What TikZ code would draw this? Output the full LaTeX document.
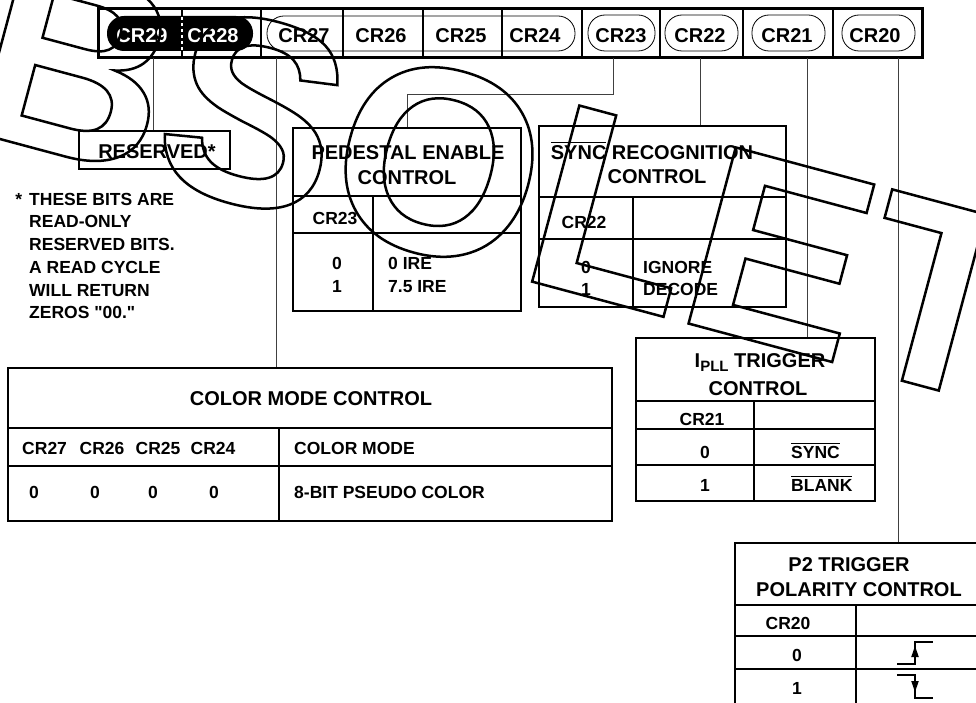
\documentclass[tikz,border=0pt]{standalone}
\usepackage{fontspec}
\setmainfont{Liberation Sans}[Ligatures=TeXOff]
\usetikzlibrary{arrows.meta}
\newcommand\ovl[1]{\vbox{\hrule height 1.1pt\kern 1.8pt\hbox{#1}}}
\begin{document}
\begin{tikzpicture}[x=1pt,y=-1pt,
  frame/.style={draw, line width=1.8pt, inner sep=0pt},
  rule/.style={line width=1.6pt},
  conn/.style={draw=black!75, line width=0.9pt},
  pill/.style={line width=0.8pt, rounded corners=17pt},
  reglbl/.style={inner sep=0pt, font=\fontsize{20}{22}\selectfont\bfseries, text height=14.3pt, text depth=0pt},
  cell/.style={inner sep=0pt, font=\fontsize{17.5}{20}\selectfont\bfseries, text height=12.5pt, text depth=0pt},
  note/.style={inner sep=0pt, font=\fontsize{17.5}{20}\selectfont\bfseries, anchor=base west},
  wave/.style={line width=1.1pt},
  tri/.style={fill=black}
]
\useasboundingbox (0,0) rectangle (976,703);
\fill[white] (0,0) rectangle (976,703);
\clip (0,0) rectangle (976,703);

% ---------------- register bar
\draw[pill] (267,16) rectangle (575,51);
\draw[pill] (588,15) rectangle (655,51);
\draw[pill] (665,15) rectangle (738,51);
\draw[pill] (752,15) rectangle (825,51);
\draw[pill] (842,15) rectangle (915,51);
\foreach \x in {182,261,343,423,502,582,660,743,833} \draw[line width=2.5pt] (\x,9) -- (\x,58);
\fill[rounded corners=17pt] (107,16) rectangle (253,51);
\draw[white, line width=1.8pt, dash pattern=on 3pt off 3pt] (182,17) -- (182,50);
\node[frame, line width=3pt, minimum width=824pt, minimum height=49pt] (reg) at (510,33.5) {};

\node[reglbl, text=white] (r29) at (142,35.5) {CR29};
\node[reglbl, text=white] (r28) at (213,35.5) {CR28};
\node[reglbl] (r27) at (304,35.5) {CR27};
\node[reglbl] (r26) at (381,35.5) {CR26};
\node[reglbl] (r25) at (461,35.5) {CR25};
\node[reglbl] (r24) at (535,35.5) {CR24};
\node[reglbl] (r23) at (621,35.5) {CR23};
\node[reglbl] (r22) at (700,35.5) {CR22};
\node[reglbl] (r21) at (787,35.5) {CR21};
\node[reglbl] (r20) at (875,35.5) {CR20};

% ---------------- reserved
\node[frame, line width=1.5pt, minimum width=151pt, minimum height=38pt] (tRes) at (154.5,150) {};
\node[reglbl] (lRes) at (157,151) {RESERVED*};

\node[note] (n1) at (29,206) {\llap{*\hspace{7pt}}THESE BITS ARE};
\node[note] (n2) at (29,228) {READ-ONLY};
\node[note] (n3) at (29,251) {RESERVED BITS.};
\node[note] (n4) at (29,273) {A READ CYCLE};
\node[note] (n5) at (29,296) {WILL RETURN};
\node[note] (n6) at (29,318) {ZEROS "00."};

% ---------------- pedestal
\node[frame, minimum width=228pt, minimum height=183pt] (tPed) at (407,219.5) {};
\draw[rule] (293,196) -- (521,196);
\draw[rule] (293,233) -- (521,233);
\draw[rule] (373,196) -- (373,311);
\node[reglbl] (ped1) at (408,152) {PEDESTAL ENABLE};
\node[reglbl] (ped2) at (407,177) {CONTROL};
\node[cell] (ped3) at (335,218) {CR23};
\node[cell] (ped4) at (337,263) {0};
\node[cell] (ped5) at (337,286) {1};
\node[cell, anchor=west] (ped6) at (388,263) {0 IRE};
\node[cell, anchor=west] (ped7) at (388,286) {7.5 IRE};

% ---------------- sync
\node[frame, minimum width=247pt, minimum height=181pt] (tSync) at (662.5,216.5) {};
\draw[rule] (539,197) -- (786,197);
\draw[rule] (539,239) -- (786,239);
\draw[rule] (633,197) -- (633,307);
\node[reglbl] (syn1) at (652,152) {\ovl{SYNC} RECOGNITION};
\node[reglbl] (syn2) at (657,176) {CONTROL};
\node[cell] (syn3) at (584,222) {CR22};
\node[cell] (syn4) at (586,267) {0};
\node[cell] (syn5) at (586,289) {1};
\node[cell, anchor=west] (syn6) at (643,267) {IGNORE};
\node[cell, anchor=west] (syn7) at (643,289) {DECODE};

% ---------------- IPLL
\node[frame, minimum width=239pt, minimum height=163pt] (tIpll) at (755.5,419.5) {};
\draw[rule] (636,401) -- (875,401);
\draw[rule] (636,429) -- (875,429);
\draw[rule] (636,465) -- (875,465);
\draw[rule] (754,401) -- (754,501);
\node[reglbl] (ip1) at (760,360) {I\raisebox{-4.5pt}{\fontsize{15}{15}\selectfont PLL} TRIGGER};
\node[reglbl] (ip2) at (758,388) {CONTROL};
\node[cell] (ip3) at (702,419) {CR21};
\node[cell] (ip4) at (705,452) {0};
\node[cell] (ip5) at (705,485) {1};
\node[cell, anchor=west] (ip6) at (791,452) {\ovl{SYNC}};
\node[cell, anchor=west] (ip7) at (791,485) {\ovl{BLANK}};

% ---------------- color mode
\node[frame, minimum width=604pt, minimum height=153pt] (tColor) at (310,444.5) {};
\draw[rule] (8,428) -- (612,428);
\draw[rule] (8,466) -- (612,466);
\draw[rule] (279,428) -- (279,521);
\node[reglbl] (cm1) at (311,398) {COLOR MODE CONTROL};
\node[cell] (cm2) at (44.6,448) {CR27};
\node[cell] (cm3) at (102,448) {CR26};
\node[cell] (cm4) at (158,448) {CR25};
\node[cell] (cm5) at (213,448) {CR24};
\node[cell, anchor=west] (cm6) at (294,448) {COLOR MODE};
\node[cell] (cm7) at (34,492) {0};
\node[cell] (cm8) at (95,492) {0};
\node[cell] (cm9) at (153,492) {0};
\node[cell] (cm10) at (214,492) {0};
\node[cell, anchor=west] (cm11) at (294,492) {8-BIT PSEUDO COLOR};

% ---------------- P2
\node[frame, minimum width=248pt, minimum height=167pt] (tP2) at (859,626.5) {};
\draw[rule] (735,605) -- (983,605);
\draw[rule] (735,636) -- (983,636);
\draw[rule] (735,669) -- (983,669);
\draw[rule] (856,605) -- (856,710);
\node[reglbl] (pp1) at (849,564) {P2 TRIGGER};
\node[reglbl] (pp2) at (859,589) {POLARITY CONTROL};
\node[cell] (pp3) at (788,623) {CR20};
\node[cell] (pp4) at (797,655) {0};
\node[cell] (pp5) at (797,688) {1};
\draw[wave] (897,664) -- (915,664) -- (915,642) -- (933,642);
\fill[tri] (915,646) -- (911.2,657) -- (918.8,657) -- cycle;
\draw[wave] (897,675) -- (915,675) -- (915,698) -- (933,698);
\fill[tri] (915,692) -- (911.2,681) -- (918.8,681) -- cycle;

% ---------------- connectors
\coordinate (p29) at (153,58);
\coordinate (p27) at (276,58);
\coordinate (p23) at (613,58);
\coordinate (p22) at (700,58);
\coordinate (p21) at (807,58);
\coordinate (p20) at (898,58);
\draw[conn] (p29) -- (p29 |- tRes.north);
\draw[conn] (p27) -- (p27 |- tColor.north);
\draw[conn] (p23) -- (613,94) -| (tPed.north);
\draw[conn] (p22) -- (p22 |- tSync.north);
\draw[conn] (p21) -- (p21 |- tIpll.north);
\draw[conn] (p20) -- (p20 |- tP2.north);

% ---------------- watermark outline
\node[anchor=base west, rotate=-15, inner sep=0pt, font=\fontsize{265}{265}\selectfont\bfseries] (wm) at (-239,75)
  {\special{pdf:literal direct 1 Tr 2.5 w}OBSOLETE\special{pdf:literal direct 0 Tr}};
\end{tikzpicture}
\end{document}
